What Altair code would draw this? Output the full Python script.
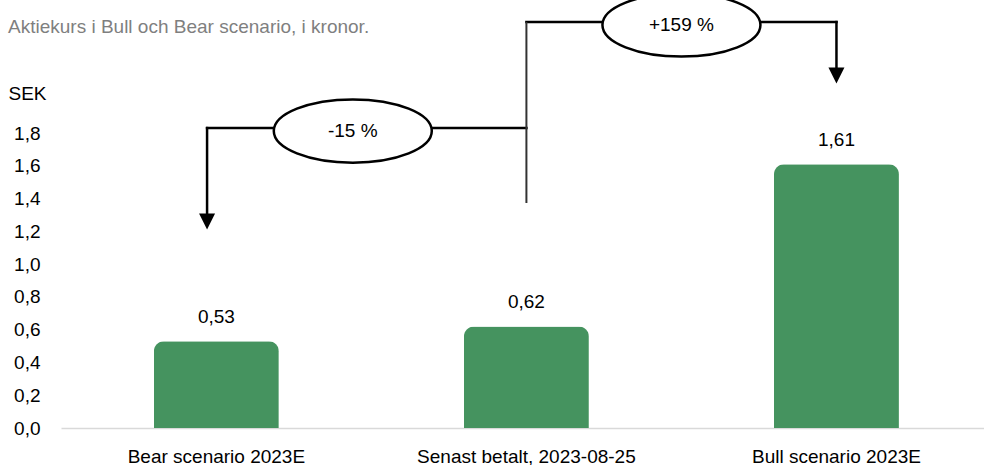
import altair as alt
import pandas as pd

# ---------------- data ----------------
categories = ["Bear scenario 2023E", "Senast betalt, 2023-08-25", "Bull scenario 2023E"]
values = [0.53, 0.62, 1.61]
y_ticks = [0.0, 0.2, 0.4, 0.6, 0.8, 1.0, 1.2, 1.4, 1.6, 1.8]

# annotation connectors, in (category index, SEK) units
seg_x1 = [-0.03, -0.03, 1.0, 2.0]
seg_y1 = [1.83, 1.83, 2.477, 2.477]
seg_x2 = [-0.03, 1.0, 2.0, 2.0]
seg_y2 = [1.27, 1.83, 2.477, 2.16]
stem_x = [1.0]
stem_y1 = [2.477]
stem_y2 = [1.373]
arrow_x = [-0.03, 2.0]
arrow_y = [1.26, 2.151]
bubble_x = [0.44, 1.5]
bubble_y = [1.812, 2.459]
bubble_text = ["-15 %", "+159 %"]

title_text = "Aktiekurs i Bull och Bear scenario, i kronor."

# ---------------- styling ----------------
FONT = "Liberation Sans"
GREEN = "#45935f"
W, H = 923, 295
PI, PO, AL = 0.597, 0.287, 0.522

# quantitative domain matching the band centres (index i at centre of band i)
step = W / (3 - PI + 2 * PO)
start = (W - step * (3 - PI)) * AL
bw = step * (1 - PI)
c0 = start + bw / 2
xdom = [-c0 / step, (W - c0) / step]

bars_df = pd.DataFrame({
    "category": categories,
    "value": values,
    "label": [f"{v:.2f}".replace(".", ",") for v in values],
})
seg_df = pd.DataFrame({"x1": seg_x1, "y1": seg_y1, "x2": seg_x2, "y2": seg_y2})
stem_df = pd.DataFrame({"x1": stem_x, "y1": stem_y1, "y2": stem_y2})
arrow_df = pd.DataFrame({"x": arrow_x, "y": arrow_y})
bubble_df = pd.DataFrame({"x": bubble_x, "y": bubble_y, "t": bubble_text})

yscale = alt.Scale(domain=[0, 1.8], nice=False, zero=True)
xq = alt.Scale(domain=xdom, nice=False, zero=False)

base = alt.Chart(bars_df).encode(
    x=alt.X(
        "category:N",
        sort=categories,
        scale=alt.Scale(paddingInner=PI, paddingOuter=PO, align=AL),
        axis=alt.Axis(
            title=None, domain=True, domainColor="#d9d9d9", domainWidth=1.5,
            ticks=False, tickSize=0, labelPadding=19, labelFontSize=19,
            labelAngle=0, labelColor="black", labelFont=FONT, grid=False,
            labelLimit=400,
        ),
    ),
    y=alt.Y(
        "value:Q",
        scale=yscale,
        axis=alt.Axis(
            values=y_ticks,
            labelExpr="replace(format(datum.value, '.1f'), '.', ',')",
            domain=False, ticks=False, tickSize=0, grid=False,
            labelPadding=21, labelFontSize=19, labelFont=FONT, labelColor="black",
            title="SEK", titleAngle=0, titleX=-53, titleY=-40,
            titleAlign="left", titleBaseline="middle", titleFontSize=19,
            titleFontWeight="normal", titleColor="black", titleFont=FONT,
        ),
    ),
)

bars = base.mark_bar(color=GREEN, cornerRadiusTopLeft=10, cornerRadiusTopRight=10)
labels = base.mark_text(
    dy=-18, baseline="alphabetic", fontSize=19, font=FONT, color="black"
).encode(text="label:N")
bar_layer = alt.layer(bars, labels)

rules = alt.Chart(seg_df).mark_rule(
    color="black", strokeWidth=2.5, strokeCap="square", clip=False
).encode(
    x=alt.X("x1:Q", scale=xq, axis=None), x2="x2:Q",
    y=alt.Y("y1:Q", scale=yscale, axis=None), y2="y2:Q",
)
stem = alt.Chart(stem_df).mark_rule(
    color="#333333", strokeWidth=2, clip=False
).encode(
    x=alt.X("x1:Q", scale=xq, axis=None),
    y=alt.Y("y1:Q", scale=yscale, axis=None), y2="y2:Q",
)
arrows = alt.Chart(arrow_df).mark_point(
    shape="M-1,-1L1,-1L0,1Z", filled=True, color="black", size=256,
    opacity=1, clip=False,
).encode(
    x=alt.X("x:Q", scale=xq, axis=None),
    y=alt.Y("y:Q", scale=yscale, axis=None),
)
ELLIPSE = "M-1,0A1,0.4,0,1,0,1,0A1,0.4,0,1,0,-1,0Z"
ellipses = alt.Chart(bubble_df).mark_point(
    shape=ELLIPSE, filled=True, fill="white", stroke="black", strokeWidth=2.5,
    size=24964, opacity=1, fillOpacity=1, strokeOpacity=1, clip=False,
).encode(
    x=alt.X("x:Q", scale=xq, axis=None),
    y=alt.Y("y:Q", scale=yscale, axis=None),
)
btext = alt.Chart(bubble_df).mark_text(
    fontSize=19, font=FONT, color="black", baseline="middle", align="center", clip=False
).encode(
    x=alt.X("x:Q", scale=xq, axis=None),
    y=alt.Y("y:Q", scale=yscale, axis=None),
    text="t:N",
)
annot_layer = alt.layer(rules, stem, arrows, ellipses, btext)

chart = alt.layer(bar_layer, annot_layer).resolve_scale(
    x="independent", y="independent"
).properties(
    width=W,
    height=H,
    autosize=alt.AutoSizeParams(type="none"),
    padding={"left": 61, "top": 133, "right": 0, "bottom": 37},
    title=alt.TitleParams(
        text=title_text, anchor="start", frame="group", dx=-53, dy=49, offset=0,
        fontSize=19, font=FONT, color="#7f7f7f", fontWeight="normal",
    ),
).configure_view(stroke=None)

chart.save("out.html", embed_options={"renderer": "svg", "actions": False})
